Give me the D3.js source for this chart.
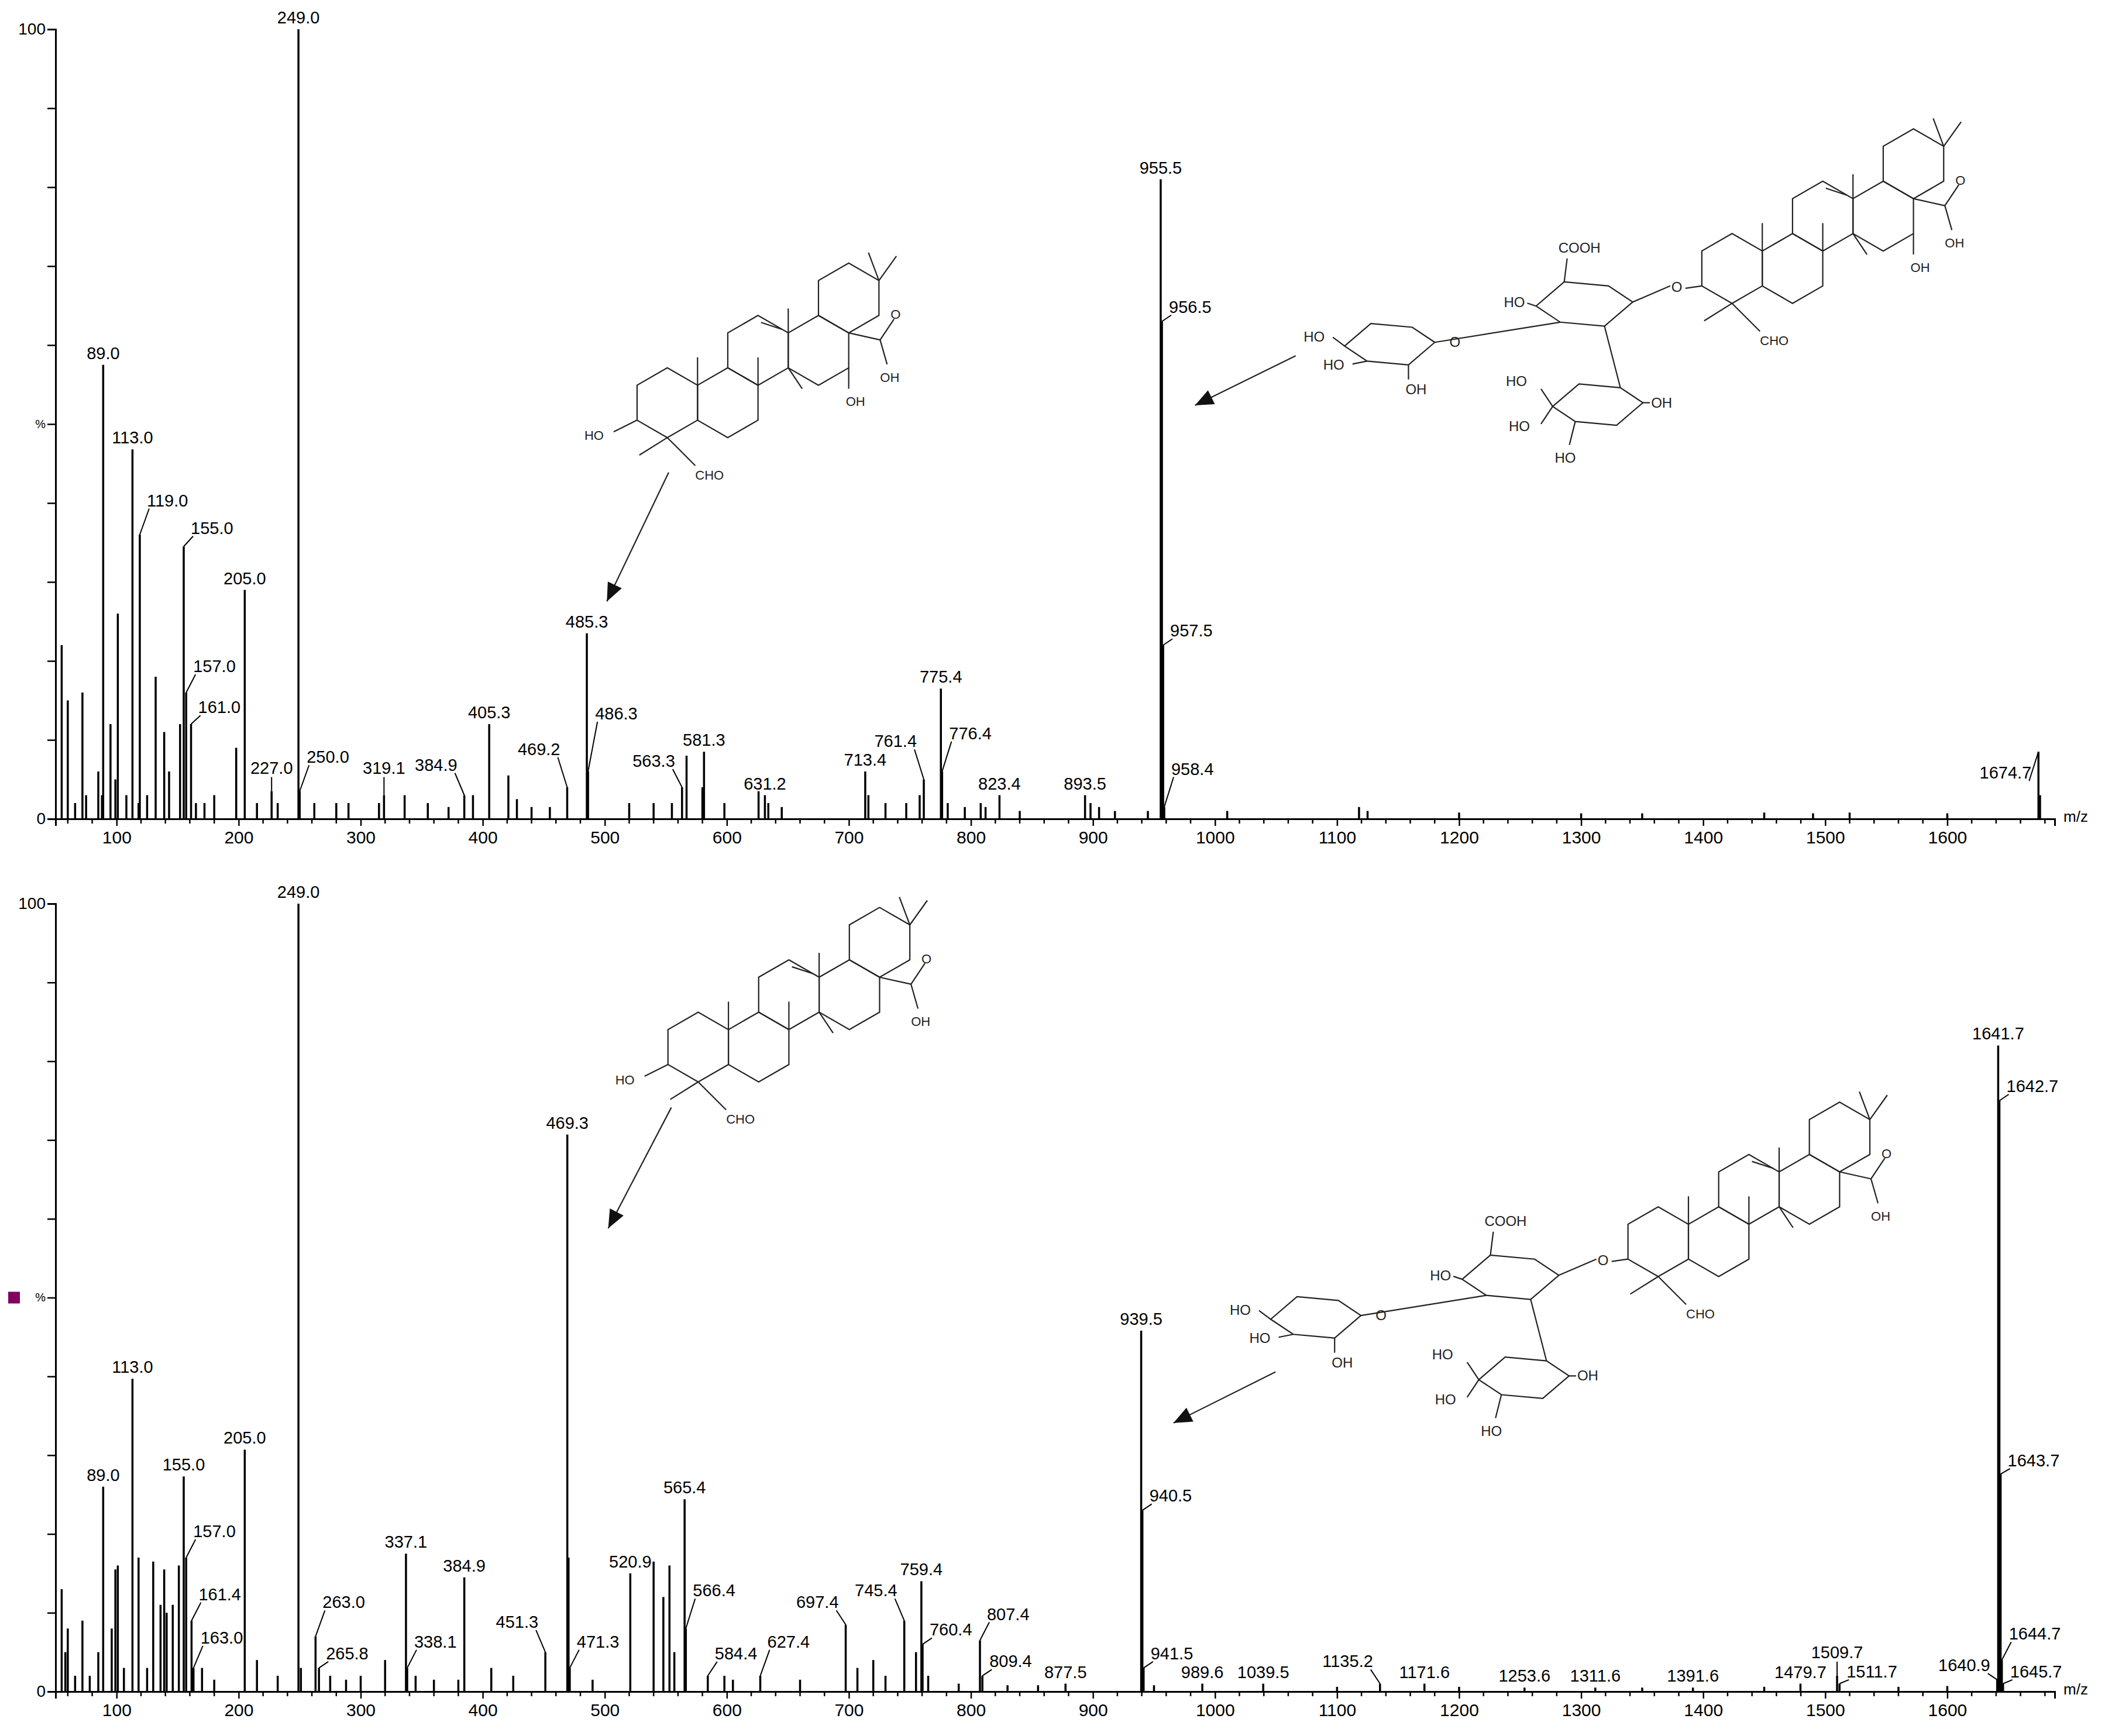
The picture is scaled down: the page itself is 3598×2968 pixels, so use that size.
<!DOCTYPE html>
<html><head><meta charset="utf-8">
<script src="https://cdn.jsdelivr.net/npm/d3@7"></script>
<style>body{margin:0;background:#fff}</style></head>
<body><svg id="c" width="3598" height="2968"></svg>
<script>
// ---- data ----
const xTicks = [100,200,300,400,500,600,700,800,900,1000,1100,1200,1300,1400,1500,1600];
const yTickLabels = ["0","%","100"];
// labelled peaks: [m/z, intensity, label-level intensity (or null), label side c/l/r]
const topLabeled = [
 [89.0,57.5,null,"c"],[113.0,46.8,null,"c"],[119.0,36,39,"r"],[155.0,34.5,35.5,"r"],[157.0,16,18,"r"],[161.0,12,12.8,"r"],
 [205.0,29,null,"c"],[227.0,3.5,5,"c"],[249.0,100,null,"c"],[250.0,3.5,6.5,"r"],[319.1,3,5,"c"],[384.9,3,5.5,"l"],
 [405.3,12,null,"c"],[469.2,4,7.5,"l"],[485.3,23.5,null,"c"],[486.3,6,12,"r"],[563.3,4,6,"l"],[581.3,8.5,null,"c"],
 [631.2,3,null,"c"],[713.4,6,null,"c"],[761.4,5,8.5,"l"],[775.4,16.5,null,"c"],[776.4,6,9.5,"r"],[823.4,3,null,"c"],
 [893.5,3,null,"c"],[955.5,81,null,"c"],[956.5,63,63.5,"r"],[957.5,22,22.5,"r"],[958.4,1.5,5,"r"],[1674.7,8.5,4.5,"l"]
];
const topOther = [[55,22],[60,15],[66,2],[72,16],[75,3],[85,6],[88,3],[95,12],[99,5],[101,26],[108,3],
 [118,2],[125,3],[132,18],[139,11],[143,6],[152,12],[165,2],[172,2],[180,3],[198,9],[215,2],[232,2],[262,2],
 [280,2],[290,2],[315,2],[336,3],[355,2],[372,1.5],[392,3],[421,5.5],[428,2.5],[440,1.5],[455,1.5],[520,2],
 [540,2],[555,2],[567,8],[580,4],[598,2],[626,3.5],[634,2],[645,1.5],[716,3],[730,2],[747,2],[758,3],[781,2],
 [795,1.5],[808,2],[812,1.5],[840,1],[898,2],[905,1.5],[918,1],[945,1],[1010,1],[1118,1.5],[1125,1],[1200,0.8],[1300,0.7],[1350,0.7],[1450,0.8],[1490,0.7],[1520,0.8],[1600,0.7],[1676,3]];
const botLabeled = [
 [89.0,26,null,"c"],[113.0,39.7,null,"c"],[155.0,27.3,null,"c"],[157.0,17,19,"r"],[161.4,9,11,"r"],[163.0,3,5.5,"r"],
 [205.0,30.7,null,"c"],[249.0,100,null,"c"],[263.0,7,10,"r"],[265.8,3,3.5,"r"],[337.1,17.5,null,"c"],[338.1,3,5,"r"],
 [384.9,14.5,null,"c"],[451.3,5,7.5,"l"],[469.3,70.7,null,"c"],[471.3,3,5,"r"],[520.9,15,null,"c"],[565.4,24.4,null,"c"],
 [566.4,8,11.5,"r"],[584.4,2,3.5,"r"],[627.4,2,5,"r"],[697.4,8.5,10,"l"],[745.4,9,11.5,"l"],[759.4,14,null,"c"],[760.4,6,6.5,"r"],
 [807.4,6.5,8.5,"r"],[809.4,2,2.5,"r"],[877.5,1,null,"c"],[939.5,45.8,null,"c"],[940.5,23,23.5,"r"],[941.5,3,3.5,"r"],
 [989.6,1,null,"c"],[1039.5,1,null,"c"],[1135.2,1,2.5,"l"],[1171.6,1,null,"c"],[1253.6,0.5,null,"c"],[1311.6,0.5,null,"c"],
 [1391.6,0.5,null,"c"],[1479.7,1,null,"c"],[1509.7,2,3.5,"c"],[1511.7,1,1.2,"r"],[1640.9,1.5,2,"l"],[1641.7,82,null,"c"],
 [1642.7,75,75.5,"r"],[1643.7,27.6,28,"r"],[1644.7,4,6,"r"],[1645.7,1,1.2,"r"]
];
const botOther = [[55,13],[58,5],[60,8],[66,2],[72,9],[78,2],[85,5],[96,8],[99,15.5],[101,16],[106,3],
 [118,17],[125,3],[130,16.5],[136,11],[139,15.5],[141,10],[146,11],[151,16],[170,3],[180,1.5],[215,4],
 [232,2],[251,3],[275,2],[288,1.5],[300,2],[320,4],[345,2],[360,1.5],[380,1.5],[407,3],[425,2],[470.3,17],
 [490,1.5],[540,16.5],[548,12],[553,16],[557,5],[598,2],[605,1.5],[660,1.5],[707,3],[720,4],[730,2],[755,5],[765,2],[790,1],[830,0.8],[855,0.8],[950,0.8],[1100,0.6],[1200,0.6],[1350,0.5],[1450,0.6],[1560,0.6],[1600,0.7]];

// ---- layout ----
const S = 2.295;
const svg = d3.select("#c");
const x = d3.scaleLinear().domain([50,1688]).range([95,3512]);
const FONT = "Liberation Sans, Arial, sans-serif";

function panel(y0, y1, labeled, other, mark){
  const y = d3.scaleLinear().domain([0,100]).range([y0,y1]);
  const g = svg.append("g");
  const all = other.concat(labeled.map(d=>[d[0],d[1]]));
  g.selectAll("line.p").data(all).join("line")
   .attr("x1",d=>x(d[0])).attr("x2",d=>x(d[0])).attr("y1",y(0)).attr("y2",d=>y(d[1]))
   .attr("stroke","#000").attr("stroke-width",3.5);
  const ya = d3.axisLeft(y).tickValues(d3.range(0,101,10)).tickSize(14).tickFormat(d=> d===0?"0":d===100?"100":d===50?"%":"");
  const ay = g.append("g").attr("transform",`translate(${x(50)},0)`).call(ya);
  ay.select(".domain").attr("stroke-width",3);
  ay.selectAll("line").attr("stroke-width",2.5);
  ay.selectAll("text").attr("font-family",FONT).attr("font-size",28).attr("fill","#000");
  ay.selectAll("text").filter(d=>d===50).attr("font-size",20);
  const xa = d3.axisBottom(x).tickValues(xTicks).tickSize(12).tickFormat(d3.format("d"));
  const ax = g.append("g").attr("transform",`translate(0,${y0})`).call(xa);
  ax.select(".domain").attr("stroke-width",3);
  ax.selectAll("line").attr("stroke-width",2.5);
  ax.selectAll("text").attr("font-family",FONT).attr("font-size",30).attr("fill","#000").attr("dy","0.9em");
  const minor = d3.range(60,1688,20).filter(v=>v%100!==0);
  g.selectAll("line.m").data(minor).join("line").attr("x1",d=>x(d)).attr("x2",d=>x(d))
   .attr("y1",y0).attr("y2",y0+8).attr("stroke","#000").attr("stroke-width",2.5);
  g.append("text").attr("x",3548).attr("y",y0+5).attr("font-family",FONT).attr("font-size",26).attr("text-anchor","middle").text("m/z");
  labeled.forEach(d=>{
    const px=x(d[0]), side=d[3];
    const lvl = d[2]===null ? d[1] : d[2];
    const ly=y(lvl);
    const t=g.append("text").attr("font-family",FONT).attr("font-size",29).text(d[0].toFixed(1));
    if(side==="c"){
      t.attr("x",px).attr("y",ly-10).attr("text-anchor","middle");
      if(d[2]!==null) g.append("path").attr("d",`M${px},${y(d[1])}L${px},${ly-4}`).attr("stroke","#000").attr("stroke-width",2);
    } else {
      const s = side==="r"?1:-1;
      g.append("path").attr("d",`M${px},${y(d[1])}L${px+s*16},${ly-4}`).attr("stroke","#000").attr("stroke-width",2).attr("fill","none");
      t.attr("x",px+s*12).attr("y",ly-8).attr("text-anchor",s>0?"start":"end");
    }
  });
  if(mark) svg.append("rect").attr("x",14).attr("y",(y0+y1)/2-10).attr("width",20).attr("height",20).attr("fill","#800060");
}
panel(1400,50,topLabeled,topOther,false);
panel(2892,1545,botLabeled,botOther,true);

// ---- structures (decorative) ----
const st = svg.append("g").attr("stroke","#222").attr("stroke-width",2.2).attr("fill","none");
function hex(cx,cy,r){const p=[];for(let i=0;i<6;i++){const a=Math.PI/6+i*Math.PI/3;p.push([cx+r*Math.cos(a),cy+r*Math.sin(a)]);}return p;}
function poly(p){st.append("path").attr("d","M"+p.map(q=>q.join(",")).join("L")+"Z");}
function line(a,b,c,d){st.append("path").attr("d",`M${a},${b}L${c},${d}`);}
function txt(t,xx,yy,fs){svg.append("text").attr("x",xx).attr("y",yy).attr("font-family",FONT).attr("font-size",fs||24).attr("fill","#222").text(t);}
function terpene(ax,ay,r,oh){
  const w=r*Math.sqrt(3), h=1.5*r;
  const c=[[0,0],[1,0],[1.5,-1],[2.5,-1],[3,-2]].map(d=>[ax+d[0]*w,ay+d[1]*h]);
  c.forEach(q=>poly(hex(q[0],q[1],r)));
  line(c[0][0]+w/2,c[0][1]-r/2,c[0][0]+w/2,c[0][1]-r*1.3);
  line(c[2][0],c[2][1]+r,c[2][0],c[2][1]+r*0.2);
  line(c[3][0]-w/2,c[3][1]-r/2,c[3][0]-w/2,c[3][1]-r*1.2);
  line(c[3][0]-w/2,c[3][1]+r/2,c[3][0]-w/2+r*0.4,c[3][1]+r*1.1);
  const t=[c[4][0]+w/2,c[4][1]-r/2];
  line(t[0],t[1],t[0]+r*0.5,t[1]-r*0.7); line(t[0],t[1],t[0]-r*0.3,t[1]-r*0.8);
  line(c[2][0]+w*0.05,c[2][1]-r*0.8,c[2][0]+w*0.4,c[2][1]-r*0.6);
  const d=[c[3][0]+w/2,c[3][1]-r/2];
  line(d[0],d[1],d[0]+r*0.9,d[1]+r*0.2); line(d[0]+r*0.9,d[1]+r*0.2,d[0]+r*1.3,d[1]-r*0.4);
  line(d[0]+r*0.9,d[1]+r*0.2,d[0]+r*1.1,d[1]+r*0.9);
  txt("O",d[0]+r*1.2,d[1]-r*0.4,22); txt("OH",d[0]+r*0.9,d[1]+r*1.4,22);
  if(oh){ line(c[3][0]+w/2,c[3][1]+r/2,c[3][0]+w/2,c[3][1]+r*1.1); txt("OH",c[3][0]+w/2-5,c[3][1]+r*1.6,22);}
  const a4=[c[0][0],c[0][1]+r];
  line(a4[0],a4[1],a4[0]+r*0.8,a4[1]+r*0.8); line(a4[0],a4[1],a4[0]-r*0.8,a4[1]+r*0.5);
  txt("CHO",a4[0]+r*0.8,a4[1]+r*1.2,22);
  return [c[0][0]-w/2,c[0][1]+r/2];
}
function arrow(x1,y1,x2,y2){
  line(x1,y1,x2,y2);
  const a=Math.atan2(y2-y1,x2-x1),L=34,s=0.4;
  svg.append("path").attr("d",`M${x2},${y2}L${x2-L*Math.cos(a-s)},${y2-L*Math.sin(a-s)}L${x2-L*Math.cos(a+s)},${y2-L*Math.sin(a+s)}Z`).attr("fill","#111");
}
function sugar(cx,cy,r){
  const p=[[-1.2,0.1],[-0.5,-0.5],[0.6,-0.4],[1.2,0],[0.5,0.6],[-0.6,0.5]].map(d=>[cx+d[0]*r,cy+d[1]*r]);
  poly(p); return p;
}
let hp=terpene(497*S,300*S,26*S,true); line(hp[0],hp[1],hp[0]-40,hp[1]+20); txt("HO",hp[0]-90,hp[1]+34,22);
arrow(498*S,352*S,452*S,448*S);
hp=terpene(520*S,780*S,26*S,false); line(hp[0],hp[1],hp[0]-40,hp[1]+20); txt("HO",hp[0]-90,hp[1]+34,22);
arrow(500*S,825*S,453*S,915*S);
function glycoside(ox,oy,oh){
  const hpp=terpene((ox+110)*S,(oy-25)*S,26*S,oh);
  txt("O",hpp[0]-52,hpp[1]+10,24); line(hpp[0],hpp[1],hpp[0]-28,hpp[1]+4);
  const g1=sugar(ox*S,oy*S,30*S);
  line(g1[3][0],g1[3][1],hpp[0]-54,hpp[1]);
  line(g1[1][0],g1[1][1],g1[1][0]+5,g1[1][1]-40); txt("COOH",g1[1][0]-10,g1[1][1]-50,24);
  line(g1[0][0],g1[0][1],g1[0][0]-15,g1[0][1]-5);
  txt("HO",g1[0][0]-55,g1[0][1]+2,24);
  const g2=sugar((ox-145)*S,(oy+30)*S,28*S);
  line(g2[3][0],g2[3][1],g1[5][0],g1[5][1]); txt("O",g2[3][0]+25,g2[3][1]+8,24);
  line(g2[0][0],g2[0][1],g2[0][0]-20,g2[0][1]-15); txt("HO",g2[0][0]-70,g2[0][1]-8,24);
  line(g2[5][0],g2[5][1],g2[5][0]-25,g2[5][1]+5); txt("HO",g2[5][0]-75,g2[5][1]+15,24);
  line(g2[4][0],g2[4][1],g2[4][0],g2[4][1]+25); txt("OH",g2[4][0]-5,g2[4][1]+50,24);
  const g3=sugar((ox+10)*S,(oy+75)*S,28*S);
  line(g3[2][0],g3[2][1],g1[4][0],g1[4][1]);
  line(g3[0][0],g3[0][1],g3[0][0]-20,g3[0][1]-30); txt("HO",g3[0][0]-80,g3[0][1]-35,24);
  line(g3[0][0],g3[0][1],g3[0][0]-20,g3[0][1]+30); txt("HO",g3[0][0]-75,g3[0][1]+42,24);
  line(g3[5][0],g3[5][1],g3[5][0]-10,g3[5][1]+40); txt("HO",g3[5][0]-35,g3[5][1]+70,24);
  line(g3[3][0],g3[3][1],g3[3][0]+12,g3[3][1]); txt("OH",g3[3][0]+14,g3[3][1]+8,24);
}
glycoside(1180,225,true);
arrow(965*S,265*S,890*S,302*S);
glycoside(1125,950,false);
arrow(950*S,1022*S,874*S,1060*S);
</script></body></html>
